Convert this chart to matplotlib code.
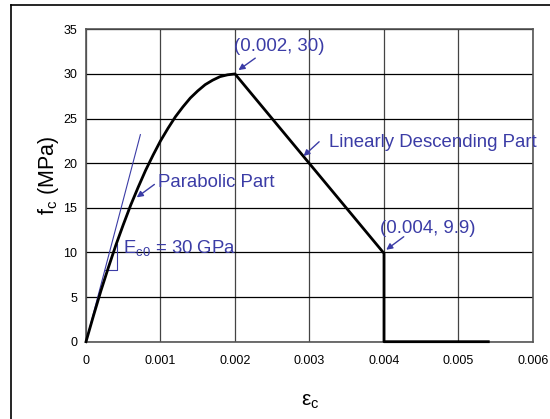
import matplotlib
matplotlib.use('Agg')
import matplotlib.pyplot as plt
from matplotlib.lines import Line2D

plt.rcParams['font.family'] = ['Liberation Sans', 'DejaVu Sans']
plt.rcParams['mathtext.fontset'] = 'custom'
plt.rcParams['mathtext.rm'] = 'Liberation Sans'
plt.rcParams['mathtext.it'] = 'Liberation Sans'

# stress-strain curve
strain = [0, 0.0001, 0.0002, 0.0003, 0.0004, 0.0005, 0.0006, 0.0007, 0.0008, 0.0009,
          0.0010, 0.0011, 0.0012, 0.0013, 0.0014, 0.0015, 0.0016, 0.0017, 0.0018, 0.0019,
          0.0020, 0.0040, 0.0040, 0.0054]
stress = [0, 2.9, 5.7, 8.3, 10.8, 13.1, 15.3, 17.3, 19.2, 20.9,
          22.5, 23.9, 25.2, 26.3, 27.3, 28.1, 28.8, 29.3, 29.7, 29.9,
          30.0, 9.9, 0, 0]

# initial modulus line and its slope triangle
tangent_x = [0, 0.00073]
tangent_y = [0, 23.2]
tri_x = [0.00025, 0.00041, 0.00041]
tri_y = [8.0, 8.0, 11.0]

xticks = [0, 0.001, 0.002, 0.003, 0.004, 0.005, 0.006]
xticklabels = ['0', '0.001', '0.002', '0.003', '0.004', '0.005', '0.006']
yticks = [0, 5, 10, 15, 20, 25, 30, 35]

blue = '#3b3ca6'

fig = plt.figure(figsize=(5.5, 4.19), dpi=100)
ax = fig.add_axes([0.15636, 0.18449, 0.81273, 0.74558])

ax.set_xlim(0, 0.006)
ax.set_ylim(0, 35)
ax.set_xticks(xticks)
ax.set_xticklabels(xticklabels)
ax.set_yticks(yticks)
ax.tick_params(axis='both', length=0, labelsize=9)
ax.tick_params(axis='x', pad=9.4)
ax.tick_params(axis='y', pad=6.3)

ax.grid(axis='y', color='black', lw=0.9)
ax.grid(axis='x', color='#444444', lw=0.9)
ax.set_axisbelow(True)
for s in ax.spines.values():
    s.set_color('#555555')
    s.set_linewidth(1.2)

ax.plot(tangent_x, tangent_y, color=blue, lw=0.8)
ax.plot(tri_x, tri_y, color=blue, lw=0.8)
ax.plot(strain, stress, color='black', lw=2, clip_on=False, zorder=3)

# annotations
arr = dict(arrowstyle='-|>', color=blue, lw=1, mutation_scale=9, shrinkA=0, shrinkB=0)
ax.text(0.001989, 33.06, '(0.002, 30)', color=blue, fontsize=13.4, va='center', ha='left')
ax.annotate('', xy=(0.002047, 30.43), xytext=(0.002272, 31.77), arrowprops=arr)

ax.text(0.003257, 21.84, 'Linearly Descending Part', color=blue, fontsize=13.4,
        va='baseline', ha='left')
ax.annotate('', xy=(0.00292, 20.8), xytext=(0.003129, 22.4), arrowprops=arr)

ax.text(0.000964, 17.29, 'Parabolic Part', color=blue, fontsize=13.4,
        va='baseline', ha='left')
ax.annotate('', xy=(0.000681, 16.17), xytext=(0.000918, 17.62), arrowprops=arr)

ax.text(0.000501, 9.97, r'E$_{\mathregular{c0}}$ = 30 GPa', color=blue, fontsize=13.4,
        va='baseline', ha='left')

ax.text(0.003942, 12.17, '(0.004, 9.9)', color=blue, fontsize=13.4,
        va='baseline', ha='left')
ax.annotate('', xy=(0.00403, 10.3), xytext=(0.004265, 11.76), arrowprops=arr)

# axis titles
fig.text(48 / 550, 1 - 175 / 419, r'$\mathregular{f_c}$ (MPa)', fontsize=15.5,
         rotation=90, ha='center', va='center')
fig.text(310 / 550, 1 - 401 / 419, r'$\mathregular{ε_c}$',
         fontsize=15, ha='center', va='center')

# outer frame (only top and left visible)
fig.add_artist(Line2D([11 / 550, 1.0], [1 - 5.5 / 419, 1 - 5.5 / 419],
                      transform=fig.transFigure, color='black', lw=1.2))
fig.add_artist(Line2D([11.3 / 550, 11.3 / 550], [0, 1 - 5.5 / 419],
                      transform=fig.transFigure, color='black', lw=1.2))

fig.savefig('out.png', dpi=100)
